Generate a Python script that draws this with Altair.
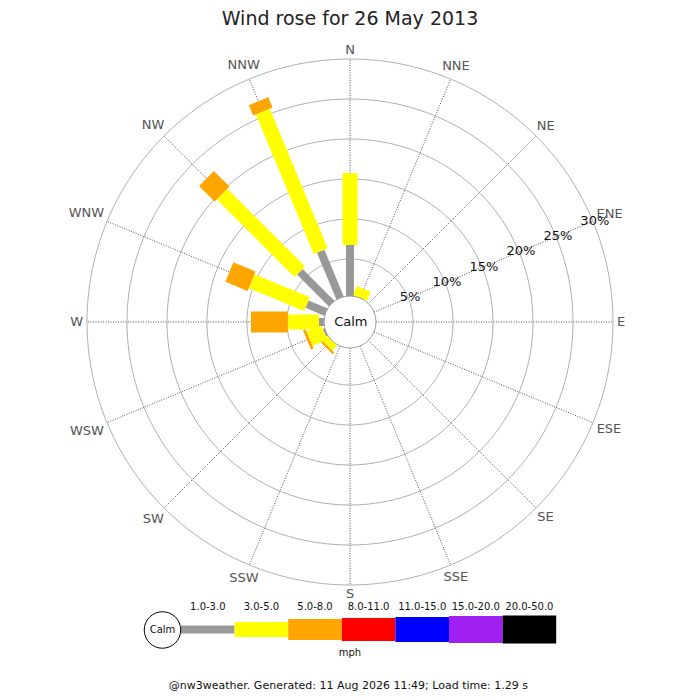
import math
import altair as alt
import pandas as pd

# ---------------- data ----------------
directions = ["N", "NNE", "NE", "ENE", "E", "ESE", "SE", "SSE",
              "S", "SSW", "SW", "WSW", "W", "WNW", "NW", "NNW"]
speed_bins = ["1.0-3.0", "3.0-5.0", "5.0-8.0", "8.0-11.0",
              "11.0-15.0", "15.0-20.0", "20.0-50.0"]
# percentage of the day per direction, for each speed bin (mph)
pct_1_3 = [6.75, 0.4, 0, 0, 0, 0, 0, 0, 0, 0, 0.3, 0.6, 1.0, 2.95, 6.0, 6.7]
pct_3_5 = [9.0, 1.2, 0, 0, 0, 0, 0, 0, 0, 0, 0.9, 2.0, 3.9, 7.5, 13.75, 18.9]
pct_5_8 = [0, 0, 0, 0, 0, 0, 0, 0, 0, 0, 0.3, 0.35, 4.6, 3.0, 2.75, 1.4]
pct_ticks = [5, 10, 15, 20, 25, 30]
title_text = "Wind rose for 26 May 2013"
footer_text = "@nw3weather. Generated: 11 Aug 2026 11:49; Load time: 1.29 s"
unit_label = "mph"
calm_label = "Calm"

# ---------------- styles ----------------
bin_colors = ["#999999", "#ffff00", "#ffa500", "#ff0000", "#0000ff", "#a020f0", "#000000"]
bin_widths = [8, 15, 21, 23, 25, 27, 28]
FONT = "DejaVu Sans"
PX = 8.0                 # pixels per percent
R0 = 23 / PX             # inner offset of the rose
CALM_R = 26 / PX
OUTER = R0 + pct_ticks[-1]

xs = alt.Scale(domain=[-42.75, 42.75], range=[0, 684], nice=False, zero=False)
ys = alt.Scale(domain=[-46.25, 39.25], range=[684, 0], nice=False, zero=False)
rs = alt.Scale(type="linear", domain=[0, 40], range=[0, 320], zero=True)
cs = alt.Scale(domain=speed_bins, range=bin_colors)
ws = alt.Scale(type="threshold", domain=[k + 0.5 for k in range(len(speed_bins) - 1)],
               range=bin_widths)


def X(f):
    return alt.X(f, type="quantitative", scale=xs, axis=None)


def Y(f):
    return alt.Y(f, type="quantitative", scale=ys, axis=None)


# ---------------- tables ----------------
rows = []
for i, d in enumerate(directions):
    start = 0.0
    for k, (b, series) in enumerate(zip(speed_bins, [pct_1_3, pct_3_5, pct_5_8])):
        v = series[i]
        if v > 0:
            rows.append({"dir": d, "idx": i, "bin": b, "k": k, "start": start, "end": start + v})
        start += v
bars_df = pd.DataFrame(rows)

char_w = {"N": 9.7, "E": 8.2, "S": 8.3, "W": 12.9}
dir_df = pd.DataFrame({
    "dir": directions,
    "idx": list(range(len(directions))),
    "w": [sum(char_w[c] for c in d) for d in directions],
})
ticks_df = pd.DataFrame({"pct": pct_ticks})
ring_df = pd.DataFrame([{"pct": p, "j": j} for p in pct_ticks for j in range(181)])
legend_df = pd.DataFrame({"bin": speed_bins, "k": list(range(len(speed_bins)))})

# ---------------- layers ----------------
rings = alt.Chart(ring_df).transform_calculate(
    a="datum.j * PI / 90", r=f"{R0} + datum.pct"
).transform_calculate(
    x="datum.r * sin(datum.a)", y="datum.r * cos(datum.a)"
).mark_line(color="#b0b0b0", strokeWidth=1).encode(
    x=X("x"), y=Y("y"), detail="pct:N", order="j:Q"
)

spokes = alt.Chart(dir_df).transform_calculate(
    a="datum.idx * PI / 8",
).transform_calculate(
    x1=f"{CALM_R} * sin(datum.a)", y1=f"{CALM_R} * cos(datum.a)",
    x2=f"{OUTER} * sin(datum.a)", y2=f"{OUTER} * cos(datum.a)",
).mark_rule(color="#555555", strokeWidth=1, strokeDash=[1, 1.5]).encode(
    x=X("x1"), y=Y("y1"), x2="x2:Q", y2="y2:Q"
)

bars = alt.Chart(bars_df).transform_calculate(
    a="datum.idx * PI / 8",
).transform_calculate(
    x1=f"({R0} + datum.start) * sin(datum.a)", y1=f"({R0} + datum.start) * cos(datum.a)",
    x2=f"({R0} + datum.end) * sin(datum.a)", y2=f"({R0} + datum.end) * cos(datum.a)",
).mark_rule(strokeCap="butt").encode(
    x=X("x1"), y=Y("y1"), x2="x2:Q", y2="y2:Q",
    color=alt.Color("bin:O", scale=cs, legend=None),
    strokeWidth=alt.StrokeWidth("k:Q", scale=ws, legend=None),
)

calm_df = pd.DataFrame({"label": [calm_label]})
calm_circle = alt.Chart(calm_df).transform_calculate(
    cx="0", cy="0", r=f"{CALM_R}"
).mark_arc(fill="white", stroke="#a0a0a0", strokeWidth=1, theta=0, theta2=2 * math.pi).encode(
    x=X("cx"), y=Y("cy"), radius=alt.Radius("r:Q", scale=rs)
)
calm_text = alt.Chart(calm_df).transform_calculate(cx="0.1", cy="0").mark_text(
    font=FONT, fontSize=13, color="#111111", align="center", baseline="middle"
).encode(x=X("cx"), y=Y("cy"), text="label:N")

pct_labels = alt.Chart(ticks_df).transform_calculate(
    a="3 * PI / 8", r=f"{R0} + datum.pct + 0.25", lab="datum.pct + '%'"
).transform_calculate(
    x="datum.r * sin(datum.a)", y="datum.r * cos(datum.a)"
).mark_text(font=FONT, fontSize=13, color="#111111", align="center", baseline="middle").encode(
    x=X("x"), y=Y("y"), text="lab:N"
)

dir_labels = alt.Chart(dir_df).transform_calculate(
    a="datum.idx * PI / 8"
).transform_calculate(
    r=f"({OUTER * PX} + 4 + abs(sin(datum.a)) * datum.w / 2 + abs(cos(datum.a)) * 5) / {PX}"
).transform_calculate(
    x="datum.r * sin(datum.a)", y="datum.r * cos(datum.a)"
).mark_text(font=FONT, fontSize=13, color="#555555", align="center", baseline="middle").encode(
    x=X("x"), y=Y("y"), text="dir:N"
)

# legend
legend_bars = alt.Chart(legend_df).transform_calculate(
    lx1="-21.125 + 6.7 * datum.k", ly="-38.44"
).transform_calculate(lx2="datum.lx1 + 6.7").mark_rule(strokeCap="butt").encode(
    x=X("lx1"), y=Y("ly"), x2="lx2:Q",
    color=alt.Color("bin:O", scale=cs, legend=None),
    strokeWidth=alt.StrokeWidth("k:Q", scale=ws, legend=None),
)
legend_text = alt.Chart(legend_df).transform_calculate(
    lxm="-21.125 + 6.7 * datum.k + 3.35", ly="-35.6"
).mark_text(font=FONT, fontSize=10, color="#111111", align="center", baseline="middle").encode(
    x=X("lxm"), y=Y("ly"), text="bin:N"
)
legend_calm = alt.Chart(calm_df).transform_calculate(
    cx="-23.44", cy="-38.5", r="2.28"
).mark_arc(fill="white", stroke="#000000", strokeWidth=1, theta=0, theta2=2 * math.pi).encode(
    x=X("cx"), y=Y("cy"), radius=alt.Radius("r:Q", scale=rs)
)
legend_calm_text = alt.Chart(calm_df).transform_calculate(cx="-23.44", cy="-38.5").mark_text(
    font=FONT, fontSize=10, color="#111111", align="center", baseline="middle"
).encode(x=X("cx"), y=Y("cy"), text="label:N")

unit_df = pd.DataFrame({"label": [unit_label]})
unit_text = alt.Chart(unit_df).transform_calculate(cx="0", cy="-41.4").mark_text(
    font=FONT, fontSize=10, color="#111111", align="center", baseline="middle"
).encode(x=X("cx"), y=Y("cy"), text="label:N")

title_df = pd.DataFrame({"label": [title_text]})
title = alt.Chart(title_df).transform_calculate(cx="0", cy="37.1").mark_text(
    font=FONT, fontSize=19, color="#222222", align="center", baseline="alphabetic"
).encode(x=X("cx"), y=Y("cy"), text="label:N")

footer_df = pd.DataFrame({"label": [footer_text]})
footer = alt.Chart(footer_df).transform_calculate(cx="-0.2", cy="-45.85").mark_text(
    font=FONT, fontSize=11, color="#111111", align="center", baseline="alphabetic"
).encode(x=X("cx"), y=Y("cy"), text="label:N")

chart = alt.layer(
    rings, spokes, bars, calm_circle, calm_text, pct_labels, dir_labels,
    legend_bars, legend_calm, legend_calm_text, legend_text, unit_text, title, footer
).properties(
    width=684, height=684,
    autosize=alt.AutoSizeParams(type="none"),
    padding=0,
    background="white",
).configure_view(stroke=None)

chart.save("out.html", embed_options={"renderer": "svg", "actions": False})
